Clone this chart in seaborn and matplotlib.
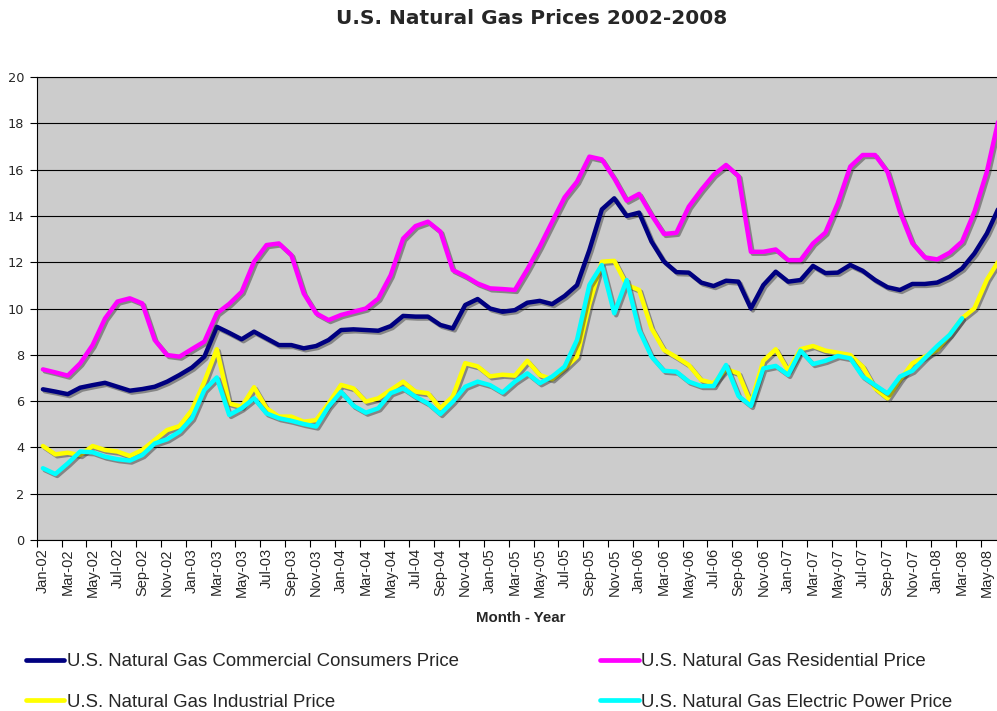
import matplotlib
matplotlib.use("Agg")
import matplotlib.pyplot as plt
import matplotlib.patheffects as pe
from matplotlib.lines import Line2D
import numpy as np
import pandas as pd
import seaborn as sns

# ---------------- data ----------------
tick_labels = ["Jan-02", "Mar-02", "May-02", "Jul-02", "Sep-02", "Nov-02",
               "Jan-03", "Mar-03", "May-03", "Jul-03", "Sep-03", "Nov-03",
               "Jan-04", "Mar-04", "May-04", "Jul-04", "Sep-04", "Nov-04",
               "Jan-05", "Mar-05", "May-05", "Jul-05", "Sep-05", "Nov-05",
               "Jan-06", "Mar-06", "May-06", "Jul-06", "Sep-06", "Nov-06",
               "Jan-07", "Mar-07", "May-07", "Jul-07", "Sep-07", "Nov-07",
               "Jan-08", "Mar-08", "May-08"]

commercial = [6.51, 6.41, 6.30, 6.58, 6.69, 6.79, 6.62, 6.45, 6.52, 6.62, 6.84, 7.13,
              7.45, 7.92, 9.21, 8.95, 8.67, 9.00, 8.71, 8.42, 8.42, 8.28, 8.38, 8.64,
              9.07, 9.10, 9.07, 9.04, 9.24, 9.68, 9.65, 9.65, 9.29, 9.14, 10.15, 10.41,
              10.00, 9.86, 9.93, 10.25, 10.33, 10.19, 10.54, 11.01, 12.53, 14.28, 14.76, 14.00,
              14.14, 12.89, 12.03, 11.57, 11.55, 11.12, 10.97, 11.20, 11.16, 10.00, 11.01, 11.59,
              11.16, 11.23, 11.84, 11.53, 11.55, 11.88, 11.63, 11.23, 10.92, 10.80, 11.06, 11.06,
              11.12, 11.37, 11.73, 12.38, 13.24, 14.40]

residential = [7.37, 7.24, 7.10, 7.63, 8.42, 9.57, 10.30, 10.44, 10.22, 8.64, 7.99, 7.92,
               8.25, 8.57, 9.79, 10.20, 10.72, 12.02, 12.74, 12.81, 12.31, 10.65, 9.79, 9.50,
               9.72, 9.86, 10.00, 10.43, 11.44, 13.02, 13.56, 13.75, 13.32, 11.66, 11.40, 11.08,
               10.87, 10.84, 10.80, 11.69, 12.67, 13.75, 14.80, 15.48, 16.56, 16.44, 15.62, 14.66,
               14.95, 14.04, 13.22, 13.27, 14.40, 15.12, 15.77, 16.20, 15.72, 12.45, 12.45, 12.55,
               12.09, 12.09, 12.81, 13.28, 14.55, 16.13, 16.63, 16.63, 15.90, 14.18, 12.82, 12.21,
               12.12, 12.41, 12.89, 14.18, 15.91, 18.30]

industrial = [4.06, 3.70, 3.77, 3.67, 4.06, 3.89, 3.82, 3.63, 3.89, 4.32, 4.75, 4.92,
              5.62, 6.84, 8.24, 5.90, 5.76, 6.60, 5.69, 5.33, 5.33, 5.11, 5.18, 5.90,
              6.70, 6.55, 5.98, 6.12, 6.48, 6.84, 6.41, 6.34, 5.69, 6.20, 7.64, 7.50,
              7.07, 7.14, 7.10, 7.74, 7.13, 6.94, 7.41, 7.92, 10.20, 12.02, 12.06, 11.02,
              10.80, 9.14, 8.21, 7.90, 7.56, 6.91, 6.77, 7.38, 7.20, 5.90, 7.74, 8.24,
              7.31, 8.24, 8.38, 8.18, 8.09, 7.99, 7.49, 6.55, 6.12, 6.91, 7.63, 7.92,
              8.21, 8.86, 9.58, 10.01, 11.24, 12.10]

electric = [3.10, 2.85, 3.31, 3.82, 3.79, 3.60, 3.49, 3.43, 3.67, 4.17, 4.35, 4.68,
            5.26, 6.48, 7.02, 5.40, 5.69, 6.12, 5.47, 5.26, 5.15, 5.01, 4.90, 5.76,
            6.40, 5.80, 5.50, 5.69, 6.34, 6.55, 6.19, 5.90, 5.44, 5.97, 6.62, 6.84,
            6.69, 6.37, 6.84, 7.20, 6.77, 7.06, 7.49, 8.64, 11.02, 11.88, 9.79, 11.23,
            9.07, 7.92, 7.31, 7.27, 6.84, 6.65, 6.65, 7.56, 6.22, 5.79, 7.41, 7.52,
            7.13, 8.18, 7.60, 7.74, 7.95, 7.85, 7.06, 6.69, 6.33, 7.06, 7.31, 7.85,
            8.38, 8.86, 9.58, np.nan, np.nan, np.nan]

series_names = ["U.S. Natural Gas Commercial Consumers Price",
                "U.S. Natural Gas Residential Price",
                "U.S. Natural Gas Industrial Price",
                "U.S. Natural Gas Electric Power Price"]
series_colors = ["#000080", "#FF00FF", "#FFFF00", "#00FFFF"]

df = pd.DataFrame({
    "idx": np.arange(len(commercial)),
    series_names[0]: commercial,
    series_names[1]: residential,
    series_names[2]: industrial,
    series_names[3]: electric,
})

# ---------------- style ----------------
sns.set_theme(style="white")
plt.rcParams["font.family"] = ["DejaVu Sans"]

W, H = 997, 711
fig = plt.figure(figsize=(W / 100, H / 100), dpi=100)
left_px, right_px, top_px, bot_px = 36.7, 1005.5, 77.0, 540.0
ax = fig.add_axes([left_px / W, 1 - bot_px / H, (right_px - left_px) / W, (bot_px - top_px) / H])
ax.set_facecolor("#CCCCCC")

shadow = [pe.SimpleLineShadow(offset=(1.4, -1.4), shadow_color="#303030", alpha=0.45),
          pe.Normal()]

for name, color in zip(series_names, series_colors):
    sns.lineplot(data=df, x="idx", y=name, ax=ax, color=color, linewidth=3.2,
                 legend=False, sort=False)
    ln = ax.lines[-1]
    ln.set_path_effects(shadow)
    ln.set_solid_joinstyle("round")
    ln.set_solid_capstyle("round")

ax.set_xlim(-0.5, len(commercial) - 0.5)
ax.set_ylim(0, 20)
ax.set_yticks(np.arange(0, 21, 2))
ax.set_yticklabels([str(v) for v in range(0, 21, 2)], fontsize=9.3, family="DejaVu Sans")
ax.yaxis.grid(True, color="black", linewidth=0.8)
ax.xaxis.grid(False)
ax.set_axisbelow(True)

ax.set_xticks(np.arange(-0.5, 76, 2))
ax.set_xticklabels([])
ax.set_xticks(np.arange(0, 77, 2), minor=True)
ax.set_xticklabels(tick_labels, minor=True, rotation=90, fontsize=10.5,
                   family="Liberation Sans")
ax.tick_params(axis="x", which="major", bottom=True, length=5, width=0.8,
               color="black", direction="out")
ax.tick_params(axis="x", which="minor", bottom=True, length=0, pad=6)
ax.tick_params(axis="y", left=True, length=5, width=0.8, color="black",
               direction="out", pad=4)
ax.set_xlabel("")
ax.set_ylabel("")

for side in ["left", "bottom", "top"]:
    ax.spines[side].set_visible(True)
    ax.spines[side].set_color("black")
    ax.spines[side].set_linewidth(0.8)
ax.spines["right"].set_visible(False)

fig.text(531.5 / W, 1 - 18 / H, "U.S. Natural Gas Prices 2002-2008", ha="center",
         va="center", fontsize=14.5, fontweight="bold", family="DejaVu Sans")
fig.text(521 / W, 1 - 618 / H, "Month - Year", ha="center", va="center",
         fontsize=10.8, fontweight="bold", family="Liberation Sans")

handles = [Line2D([], [], color=c, linewidth=3.4) for c in series_colors]
order = [0, 2, 1, 3]
fig.legend([handles[i] for i in order], [series_names[i] for i in order], ncol=2,
           loc="upper left", bbox_to_anchor=(26 / W, 1 - 653 / H), frameon=False,
           prop={"family": "Liberation Sans", "size": 13.4}, handlelength=2.05,
           handletextpad=0.15, columnspacing=7.6, labelspacing=1.27, borderpad=0,
           borderaxespad=0)

fig.savefig("out.png", dpi=100)
